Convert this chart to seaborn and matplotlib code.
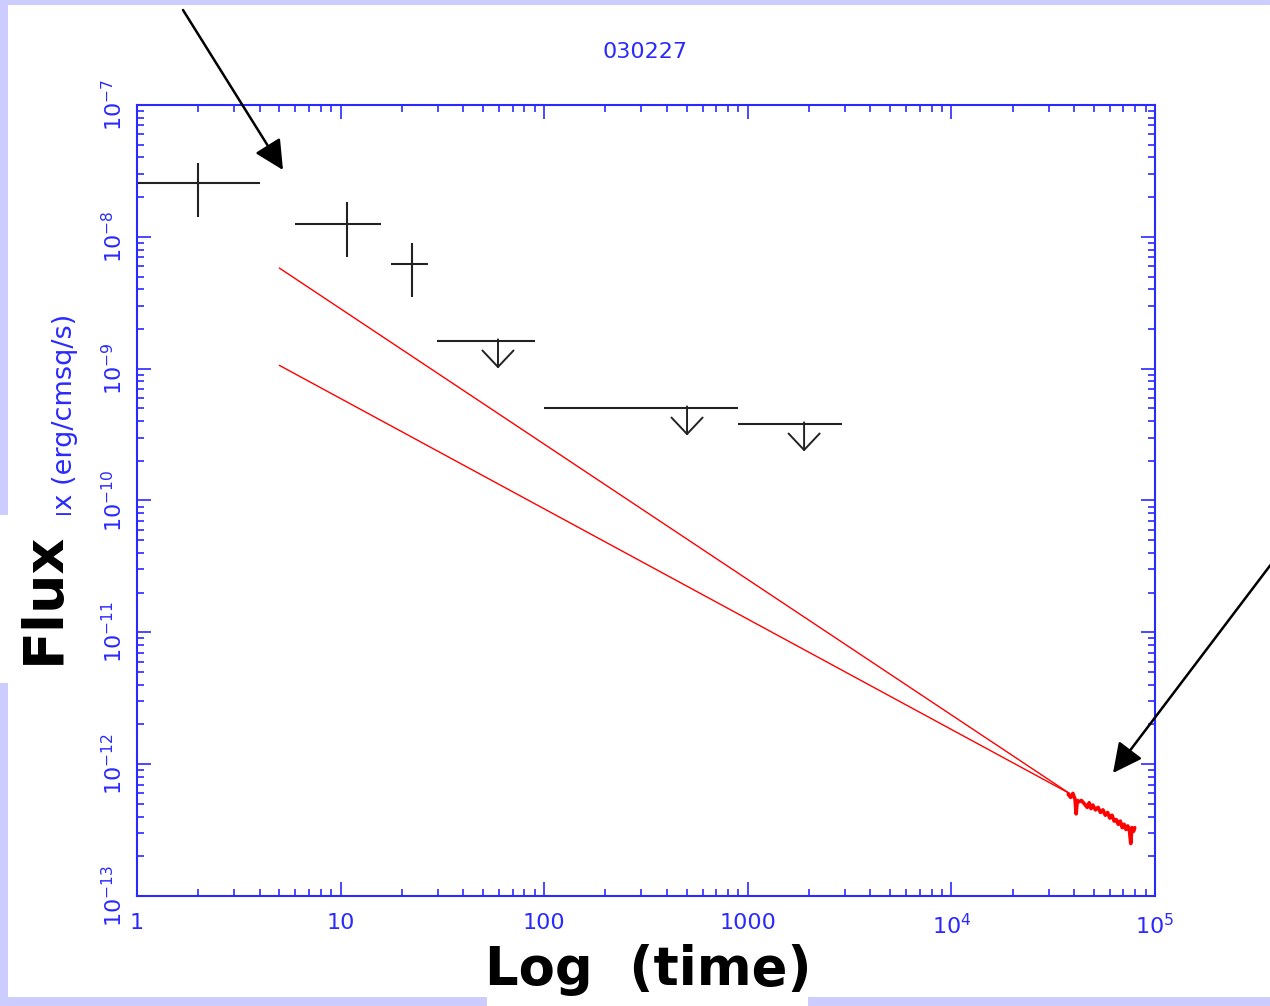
import numpy as np
import pandas as pd
import matplotlib
matplotlib.use("Agg")
import matplotlib.pyplot as plt
from matplotlib.patches import Rectangle, FancyArrowPatch
from matplotlib.ticker import LogLocator, FixedLocator, FixedFormatter, NullFormatter
import seaborn as sns

# ---------------- data ----------------
title = "030227"

# detections (time, time range, flux, flux range)
det_t = [2.0, 10.7, 22.4]
det_t_lo = [1.0, 5.97, 17.7]
det_t_hi = [4.0, 15.8, 26.9]
det_f = [2.56e-8, 1.25e-8, 6.22e-9]
det_f_lo = [1.41e-8, 7.03e-9, 3.49e-9]
det_f_hi = [3.63e-8, 1.84e-8, 8.97e-9]

# upper limits
ul_t = [59.3, 503.0, 1890.0]
ul_t_lo = [29.7, 100.0, 895.0]
ul_t_hi = [90.2, 895.0, 2900.0]
ul_f = [1.62e-9, 5.02e-10, 3.8e-10]

# extrapolated power-law models (endpoints)
model_t = [5.0, 38000.0]
steep_f = [5.8e-9, 6.0e-13]
shallow_f = [1.06e-9, 6.0e-13]

# late-time X-ray light curve
xrt_t = [37500, 38500, 39500, 40500, 41000, 41500, 42500, 43500, 45000, 46500,
         47500, 48500, 49500, 51000, 52500, 54000, 55500, 57000, 58500, 60000,
         61500, 63000, 64500, 66000, 67500, 69000, 70500, 72000, 73500, 75000,
         76000, 77000, 78500, 79500]
xrt_f = [5.9e-13, 5.6e-13, 6.0e-13, 5.4e-13, 4.2e-13, 5.3e-13, 5.2e-13, 5.3e-13, 5.0e-13, 4.7e-13,
         5.1e-13, 4.6e-13, 4.9e-13, 4.5e-13, 4.7e-13, 4.3e-13, 4.5e-13, 4.1e-13, 4.3e-13, 3.9e-13,
         4.1e-13, 3.7e-13, 3.8e-13, 3.5e-13, 3.7e-13, 3.3e-13, 3.5e-13, 3.2e-13, 3.4e-13, 3.1e-13,
         2.5e-13, 3.3e-13, 3.1e-13, 3.3e-13]

x_ticks = [1, 10, 100, 1000, 1e4, 1e5]
x_ticklabels = ["1", "10", "100", "1000", r"$10^4$", r"$10^5$"]
y_ticks = [1e-13, 1e-12, 1e-11, 1e-10, 1e-9, 1e-8, 1e-7]
y_ticklabels = [r"$10^{-13}$", r"$10^{-12}$", r"$10^{-11}$", r"$10^{-10}$",
                r"$10^{-9}$", r"$10^{-8}$", r"$10^{-7}$"]

# ---------------- style ----------------
sns.set_theme(style="ticks")
plt.rcParams["font.family"] = ["DejaVu Sans"]
plt.rcParams["mathtext.fontset"] = "dejavusans"

BLUE = "#2a2aff"
LAV = "#ccccff"
W, H = 1270, 1006

fig = plt.figure(figsize=(W / 100, H / 100), dpi=100, facecolor="white")
ax = fig.add_axes([137 / W, 1 - 896 / H, (1155 - 137) / W, (896 - 105) / H])
ax.set_facecolor("white")

def fp(x, y):
    return (x / W, 1 - y / H)

# background slide strips
for (x0, y0, x1, y1) in [(0, 0, W, 5), (0, 0, 8, H), (0, 997, W, H)]:
    fig.add_artist(Rectangle(fp(x0, y1), (x1 - x0) / W, (y1 - y0) / H,
                             transform=fig.transFigure, facecolor=LAV,
                             edgecolor="none", zorder=-5))

# model lines
df_steep = pd.DataFrame({"t": model_t, "f": steep_f})
df_shallow = pd.DataFrame({"t": model_t, "f": shallow_f})
sns.lineplot(data=df_steep, x="t", y="f", ax=ax, color="red", linewidth=1.0)
sns.lineplot(data=df_shallow, x="t", y="f", ax=ax, color="red", linewidth=1.0)

# XRT light curve
df_xrt = pd.DataFrame({"t": xrt_t, "f": xrt_f})
sns.lineplot(data=df_xrt, x="t", y="f", ax=ax, color="red", linewidth=2.6)

ax.set_xscale("log")
ax.set_yscale("log")

# detections
dt = np.array(det_t); df_ = np.array(det_f)
ax.errorbar(dt, df_,
            xerr=[dt - np.array(det_t_lo), np.array(det_t_hi) - dt],
            yerr=[df_ - np.array(det_f_lo), np.array(det_f_hi) - df_],
            fmt="none", ecolor="#222222", elinewidth=1.5, capsize=0)

# upper limits
ut = np.array(ul_t); uf = np.array(ul_f)
ax.errorbar(ut, uf, xerr=[ut - np.array(ul_t_lo), np.array(ul_t_hi) - ut],
            fmt="none", ecolor="#222222", elinewidth=1.5, capsize=0)
for t, f in zip(ul_t, ul_f):
    ax.add_patch(FancyArrowPatch((t, f * 1.03), (t, f * 0.62),
                                 arrowstyle="->,head_length=0.85,head_width=0.8",
                                 mutation_scale=14, color="#222222",
                                 linewidth=1.4, shrinkA=0, shrinkB=0))

ax.set_xlim(1, 1e5)
ax.set_ylim(1e-13, 1e-7)
ax.set_xlabel("")
ax.set_ylabel("")

# ticks
ax.xaxis.set_major_locator(FixedLocator(x_ticks))
ax.xaxis.set_major_formatter(FixedFormatter(x_ticklabels))
ax.yaxis.set_major_locator(FixedLocator(y_ticks))
ax.yaxis.set_major_formatter(FixedFormatter(y_ticklabels))
ax.xaxis.set_minor_locator(LogLocator(base=10, subs=np.arange(2, 10), numticks=20))
ax.yaxis.set_minor_locator(LogLocator(base=10, subs=np.arange(2, 10), numticks=20))
ax.xaxis.set_minor_formatter(NullFormatter())
ax.yaxis.set_minor_formatter(NullFormatter())
ax.tick_params(which="both", direction="in", top=True, right=True,
               color=BLUE, labelcolor=BLUE, width=1.2)
ax.tick_params(which="major", length=10)
ax.tick_params(which="minor", length=5)
ax.tick_params(axis="x", labelsize=16, pad=12)
ax.tick_params(axis="y", labelsize=16, pad=8)
for lab in ax.get_yticklabels():
    lab.set_rotation(90)
    lab.set_va("center")
for s in ax.spines.values():
    s.set_color(BLUE)
    s.set_linewidth(1.5)
    s.set_visible(True)

# title and small y label
fig.text(*fp(645, 52), title, color=BLUE, fontsize=16, ha="center", va="center")
fig.text(*fp(65, 432), "Flux (erg/cmsq/s)", color=BLUE, fontsize=19.5,
         rotation=90, ha="center", va="center", zorder=2)

# white boxes of the slide overlay
fig.add_artist(Rectangle(fp(0, 683), 92 / W, (683 - 515) / H,
                         transform=fig.transFigure, facecolor="white",
                         edgecolor="none", zorder=5))
fig.add_artist(Rectangle(fp(487, H), (808 - 487) / W, (H - 942) / H,
                         transform=fig.transFigure, facecolor="white",
                         edgecolor="none", zorder=5))

fig.text(*fp(44, 598), "Flux", color="black", fontsize=40, fontweight="bold",
         rotation=90, ha="center", va="center", zorder=6)
fig.text(*fp(648, 970), "Log  (time)", color="black", fontsize=38,
         fontweight="bold", ha="center", va="center", zorder=6)

# annotation arrows
for (x0, y0, x1, y1) in [(183, 10, 283, 170), (1272, 563, 1113, 773)]:
    fig.add_artist(FancyArrowPatch(fp(x0, y0), fp(x1, y1),
                                   transform=fig.transFigure,
                                   arrowstyle="-|>,head_length=0.9,head_width=0.45",
                                   mutation_scale=20, color="black",
                                   linewidth=1.8, shrinkA=0, shrinkB=0, zorder=7))

fig.savefig("out.png", dpi=100, facecolor="white")
